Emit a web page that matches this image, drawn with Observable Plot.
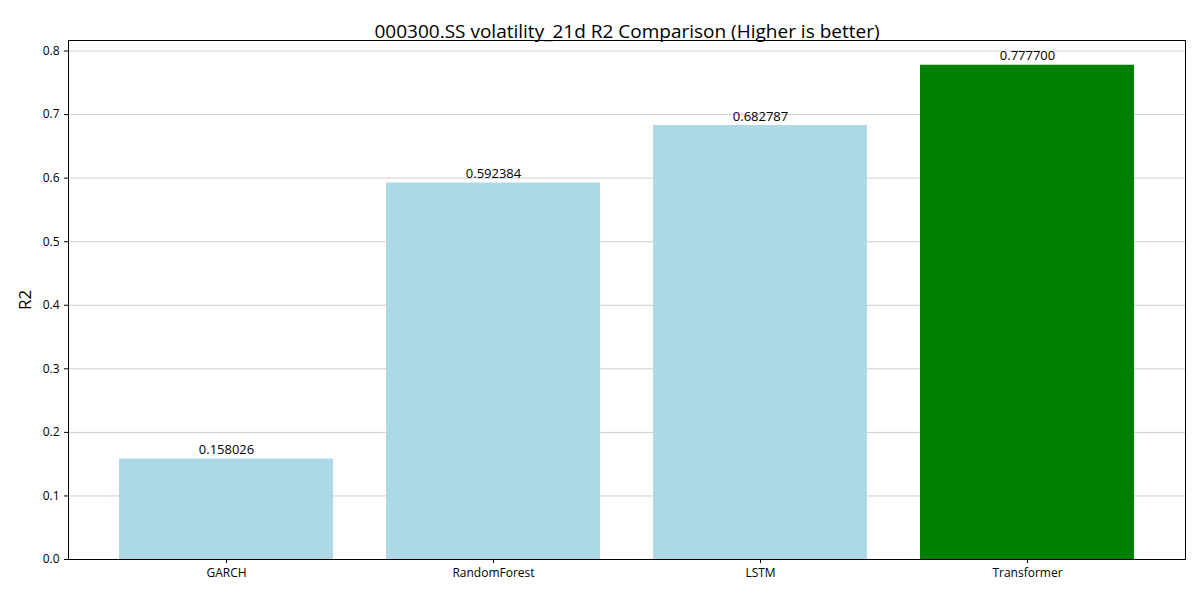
<!DOCTYPE html>
<html><head><meta charset="utf-8">
<script src="https://cdn.jsdelivr.net/npm/d3@7"></script>
<script src="https://cdn.jsdelivr.net/npm/@observablehq/plot@0.6"></script>
<style>body{margin:0;background:#fff;font-family:"Open Sans",sans-serif}</style>
</head><body><div id="c"></div>
<script>
const models = ["GARCH","RandomForest","LSTM","Transformer"];
const r2 = [0.158026, 0.592384, 0.682787, 0.777700];
const colors = ["lightblue","lightblue","lightblue","green"];
const yTicks = [0,0.1,0.2,0.3,0.4,0.5,0.6,0.7,0.8];
const title = "000300.SS volatility_21d R2 Comparison (Higher is better)";
const data = models.map((m,i)=>({model:m, value:r2[i], color:colors[i]}));
const chart = Plot.plot({
  width:1200, height:600,
  marginLeft:68, marginRight:15, marginTop:40, marginBottom:41,
  style:{fontFamily:"Open Sans, sans-serif", fontSize:"12px", color:"#000", background:"#fff"},
  x:{domain:models, paddingInner:0.2, paddingOuter:0.19, label:null, tickSize:4},
  y:{domain:[0,0.7777*1.05], ticks:yTicks, tickFormat:d3.format(".1f"), label:"R2", labelAnchor:"center", labelArrow:"none", labelOffset:50, grid:true, tickSize:4},
  marks:[
    Plot.gridY(yTicks,{stroke:"#000", strokeOpacity:0.1}),
    Plot.barY(data,{x:"model", y:"value", fill:"color"}),
    Plot.text(data,{x:"model", y:"value", text:d=>d.value.toFixed(6), dy:-9, fontSize:13}),
    Plot.frame({stroke:"#000"}),
    Plot.text([title],{frameAnchor:"top", dy:-16, fontSize:19})
  ]
});
chart.querySelectorAll('[aria-label="y-axis label"] text').forEach(t=>t.style.fontSize="17px");
document.getElementById("c").appendChild(chart);
</script></body></html>
